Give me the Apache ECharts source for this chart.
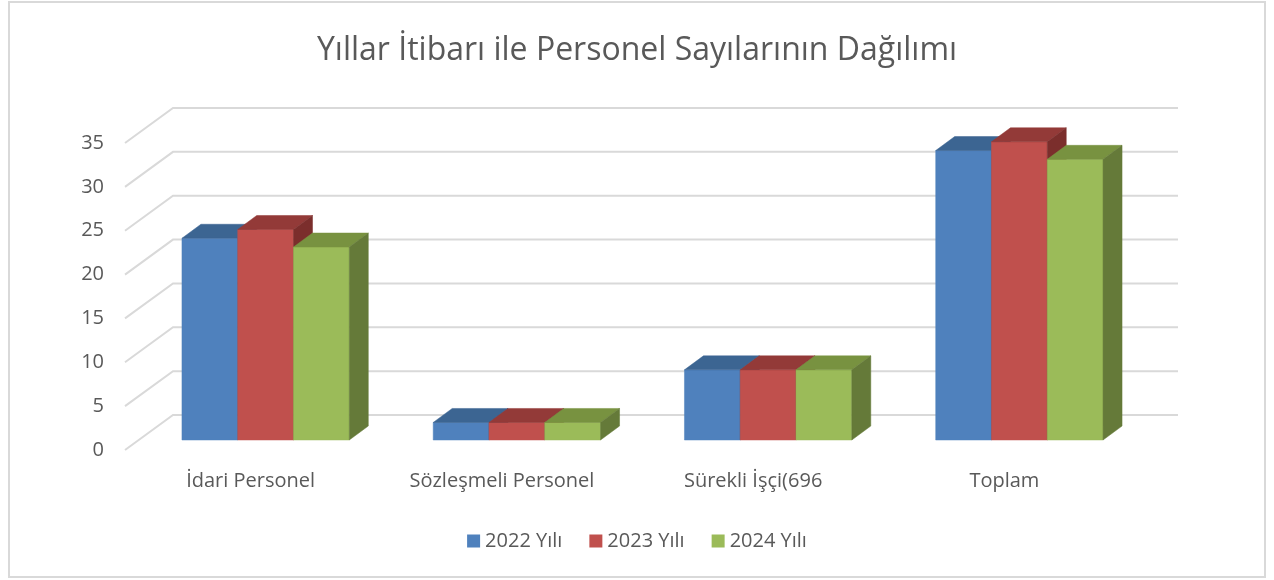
<!DOCTYPE html>
<html>
<head>
<meta charset="utf-8">
<title>Yıllar İtibarı ile Personel Sayılarının Dağılımı</title>
<script src="https://cdn.jsdelivr.net/npm/echarts@6/dist/echarts.min.js"></script>
<style>
  html, body { margin: 0; padding: 0; background: #fff; }
  #chart { width: 1274px; height: 580px; }
</style>
</head>
<body>
<div id="chart"></div>
<script>
// data
const categories = ['İdari Personel', 'Sözleşmeli Personel', 'Sürekli İşçi(696', 'Toplam'];
const seriesNames = ['2022 Yılı', '2023 Yılı', '2024 Yılı'];
const values2022 = [23, 2, 8, 33];
const values2023 = [24, 2, 8, 34];
const values2024 = [22, 2, 8, 32];
const yTicks = [0, 5, 10, 15, 20, 25, 30, 35];

// face colours: front, top, side
const faces = [
  ['#4F81BD', '#3C6592', '#375A84'],
  ['#C0504D', '#933A38', '#7B2E2C'],
  ['#9BBB59', '#789240', '#657A39']
];

// 3d look (pixels)
const wallDepth = [48, -35];
const barShift = [15, -10];
const barDepth = [19, -14];
const barWidthRatio = 0.222;

function wallRender(params, api) {
  const cs = params.coordSys;
  const y = api.coord([0, api.value(1)])[1];
  const x0 = cs.x, x1 = cs.x + cs.width;
  return {
    type: 'polyline',
    shape: { points: [[x0, y], [x0 + wallDepth[0], y + wallDepth[1]], [x1 + wallDepth[0], y + wallDepth[1]]] },
    style: { stroke: '#d9d9d9', lineWidth: 2, fill: null },
    silent: true
  };
}

function barRenderer(s) {
  return function (params, api) {
    const i = api.value(0);
    const top = api.coord([i, api.value(1)]);
    const base = api.coord([i, 0]);
    const band = api.size([1, 0])[0];
    const w = band * barWidthRatio;
    const xl = base[0] - 1.5 * w + s * w + barShift[0];
    const xr = xl + w;
    const yb = base[1] + barShift[1];
    const yt = top[1] + barShift[1];
    const dx = barDepth[0], dy = barDepth[1];
    const c = faces[s];
    return {
      type: 'group',
      children: [
        { type: 'polygon', shape: { points: [[xl, yb], [xr, yb], [xr, yt], [xl, yt]] },
          style: { fill: c[0], stroke: c[0], lineWidth: 0.5 } },
        { type: 'polygon', shape: { points: [[xl, yt], [xr, yt], [xr + dx, yt + dy], [xl + dx, yt + dy]] },
          style: { fill: c[1], stroke: c[1], lineWidth: 0.5 } },
        { type: 'polygon', shape: { points: [[xr, yb], [xr + dx, yb + dy], [xr + dx, yt + dy], [xr, yt]] },
          style: { fill: c[2], stroke: c[2], lineWidth: 0.5 } }
      ]
    };
  };
}

const yearValues = [values2022, values2023, values2024];

let chart = echarts.init(document.getElementById('chart'), null, { renderer: 'canvas' });

const option = {
  animation: false,
  textStyle: { fontFamily: 'Open Sans' },
  title: {
    text: 'Yıllar İtibarı ile Personel Sayılarının Dağılımı',
    left: 'center',
    top: 30,
    textStyle: { fontFamily: 'Open Sans', fontSize: 32, fontWeight: 'normal', color: '#595959' }
  },
  legend: {
    data: seriesNames,
    left: 'center',
    top: 526,
    itemWidth: 13,
    itemHeight: 13,
    itemGap: 27,
    icon: 'rect',
    textStyle: { fontFamily: 'Open Sans', fontSize: 20, color: '#595959' }
  },
  grid: { left: 125, right: 144, top: 143, bottom: 130 },
  xAxis: {
    type: 'category',
    data: categories,
    axisLine: { show: false },
    axisTick: { show: false },
    axisLabel: { margin: 21, fontSize: 20, color: '#595959', interval: 0 }
  },
  yAxis: {
    type: 'value',
    min: 0,
    max: 35,
    interval: 5,
    axisLine: { show: false },
    axisTick: { show: false },
    splitLine: { show: false },
    axisLabel: { margin: 21, fontSize: 20, color: '#595959' }
  },
  graphic: [{
    type: 'rect',
    shape: { x: 9, y: 2, width: 1256, height: 575 },
    style: { fill: null, stroke: '#d9d9d9', lineWidth: 2 },
    silent: true
  }],
  series: [
    {
      name: 'walls',
      type: 'custom',
      renderItem: wallRender,
      data: yTicks.map(v => [0, v]),
      silent: true,
      z: 1
    }
  ].concat(seriesNames.map((name, s) => ({
    name: name,
    type: 'custom',
    renderItem: barRenderer(s),
    itemStyle: { color: faces[s][0] },
    data: yearValues[s].map((v, i) => [i, v]),
    z: 2
  })))
};

chart.setOption(option);
</script>
</body>
</html>
